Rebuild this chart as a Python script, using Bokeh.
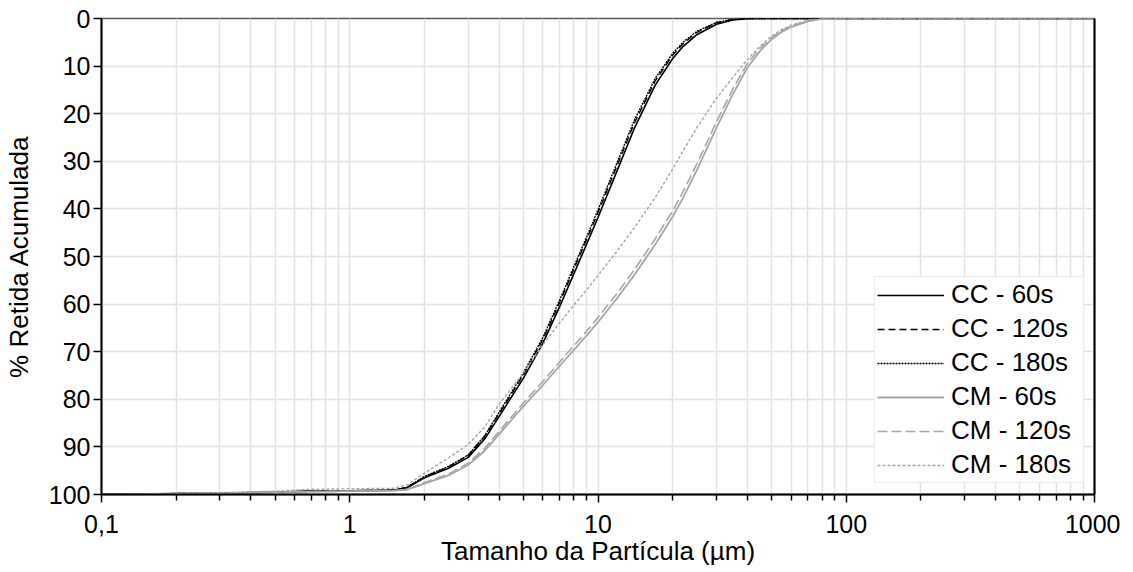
from bokeh.plotting import figure
from bokeh.models import (Range1d, FixedTicker, CustomJSTickFormatter, LinearAxis,
                          Legend, LegendItem)
from bokeh.embed import file_html
from bokeh.resources import INLINE

# particle sizes (µm)
size_um = [0.1, 0.2, 0.3, 0.5, 0.7, 1.0, 1.5, 1.7, 2.0, 2.5, 3.0, 3.5, 4.0, 5.0, 6.0, 7.0,
           8.0, 9.0, 10.0, 12.0, 14.0, 17.0, 20.0, 22.0, 25.0, 30.0, 35.0, 40.0, 45.0,
           50.0, 55.0, 60.0, 70.0, 80.0, 100.0, 200.0, 500.0, 1000.0]

# % retida acumulada
cc_60 = [100.0, 99.8, 99.7, 99.5, 99.3, 99.2, 99.1, 98.6, 96.5, 94.5, 92.2, 88.3, 83.6, 75.6,
         68.2, 60.6, 53.6, 47.4, 41.8, 31.7, 23.1, 14.0, 8.4, 5.9, 3.4, 1.2, 0.3, 0.05, 0.0,
         0.0, 0.0, 0.0, 0.0, 0.0, 0.0, 0.0, 0.0, 0.0]
cc_120 = [100.0, 99.8, 99.7, 99.5, 99.3, 99.2, 99.1, 98.5, 96.3, 94.2, 91.8, 87.8, 83.0, 74.9,
          67.4, 59.7, 52.6, 46.4, 40.8, 30.6, 22.0, 13.1, 7.7, 5.3, 2.9, 0.9, 0.2, 0.0, 0.0,
          0.0, 0.0, 0.0, 0.0, 0.0, 0.0, 0.0, 0.0, 0.0]
cc_180 = [100.0, 99.8, 99.7, 99.5, 99.3, 99.2, 99.1, 98.5, 96.2, 94.1, 91.7, 87.6, 82.7, 74.5,
          67.0, 59.2, 52.1, 45.9, 40.2, 30.0, 21.4, 12.6, 7.3, 5.0, 2.7, 0.8, 0.2, 0.0, 0.0,
          0.0, 0.0, 0.0, 0.0, 0.0, 0.0, 0.0, 0.0, 0.0]
cm_60 = [100.0, 99.8, 99.7, 99.5, 99.4, 99.3, 99.2, 99.0, 97.7, 96.0, 93.8, 90.8, 87.3, 81.5,
         77.0, 73.0, 69.6, 66.6, 63.8, 58.6, 53.9, 47.5, 41.6, 37.7, 31.9, 23.0, 15.8, 10.3,
         6.8, 4.4, 2.8, 1.8, 0.6, 0.1, 0.0, 0.0, 0.0, 0.0]
cm_120 = [100.0, 99.8, 99.7, 99.5, 99.4, 99.3, 99.2, 98.9, 97.5, 95.7, 93.4, 90.3, 86.7, 80.8,
          76.2, 72.2, 68.7, 65.7, 62.8, 57.6, 52.8, 46.3, 40.4, 36.4, 30.6, 21.7, 14.7, 9.4,
          6.2, 4.0, 2.5, 1.6, 0.5, 0.1, 0.0, 0.0, 0.0, 0.0]
cm_180 = [100.0, 99.8, 99.6, 99.3, 98.9, 98.8, 98.7, 98.0, 95.5, 92.3, 89.5, 85.8, 81.0, 74.5,
          68.5, 64.0, 60.2, 57.0, 54.0, 48.7, 44.0, 37.6, 31.6, 27.8, 23.0, 16.8, 12.3, 8.6,
          5.8, 3.7, 2.3, 1.4, 0.4, 0.0, 0.0, 0.0, 0.0, 0.0]

series_names = ["CC - 60s", "CC - 120s", "CC - 180s", "CM - 60s", "CM - 120s", "CM - 180s"]
series_values = [cc_60, cc_120, cc_180, cm_60, cm_120, cm_180]

x_major = [0.1, 1, 10, 100, 1000]
x_minor = [m * 10.0 ** e for e in range(-1, 3) for m in range(2, 10)]
y_ticks = [0, 10, 20, 30, 40, 50, 60, 70, 80, 90, 100]

FONT = "Liberation Sans"
GRID = "#e3e3e3"
GRAY = "#a6a6a6"

p = figure(x_axis_type="log", x_range=Range1d(0.1, 1000), y_range=Range1d(100, 0),
           width=1120, height=572, output_backend="svg", toolbar_location=None,
           min_border_left=101, min_border_top=18, min_border_right=26, min_border_bottom=78,
           background_fill_color="white", border_fill_color="white")
p.outline_line_color = "#595959"
p.outline_line_width = 1.5

xt = FixedTicker(ticks=x_major, minor_ticks=x_minor)
p.xaxis.ticker = xt
p.xgrid.ticker = xt
p.xaxis.formatter = CustomJSTickFormatter(
    code="return tick < 0.5 ? '0,1' : String(Math.round(tick));")
p.yaxis.ticker = FixedTicker(ticks=y_ticks)
p.ygrid.ticker = FixedTicker(ticks=y_ticks)

p.xgrid.grid_line_color = GRID
p.xgrid.minor_grid_line_color = GRID
p.ygrid.grid_line_color = GRID
p.xgrid.grid_line_width = 1.5
p.xgrid.minor_grid_line_width = 1.5
p.ygrid.grid_line_width = 1.5

for ax in (p.xaxis, p.yaxis):
    ax.axis_line_color = "black"
    ax.axis_line_width = 2
    ax.major_tick_line_color = "black"
    ax.major_tick_line_width = 1.5
    ax.major_tick_in = 0
    ax.major_tick_out = 8
    ax.major_label_text_font = FONT
    ax.major_label_text_font_size = "25px"
    ax.major_label_text_color = "black"
    ax.axis_label_text_font = FONT
    ax.axis_label_text_font_size = "26px"
    ax.axis_label_text_font_style = "normal"
    ax.axis_label_text_color = "black"

p.xaxis.minor_tick_line_color = "black"
p.xaxis.minor_tick_line_width = 1.5
p.xaxis.minor_tick_in = 0
p.xaxis.minor_tick_out = 6
p.yaxis.minor_tick_line_color = None
p.xaxis.major_label_standoff = 12
p.yaxis.major_label_standoff = 3
p.xaxis.axis_label = "Tamanho da Partícula (µm)"
p.yaxis.axis_label = "% Retida Acumulada"
p.xaxis.axis_label_standoff = 0
p.yaxis.axis_label_standoff = 12

right_axis = LinearAxis(ticker=FixedTicker(ticks=[]), axis_line_color="black",
                        axis_line_width=2, major_label_text_font_size="0px")
p.add_layout(right_axis, "right")

styles = [
    dict(color="black", dash="solid", width=1.6),
    dict(color="black", dash="7 4", width=1.4),
    dict(color="black", dash="2 1", width=1.4),
    dict(color=GRAY, dash="solid", width=1.8),
    dict(color=GRAY, dash="10 4", width=1.6),
    dict(color=GRAY, dash="3 2", width=1.4),
]

items = []
for name, vals, st in zip(series_names, series_values, styles):
    r = p.line(size_um, vals, line_color=st["color"], line_dash=st["dash"],
               line_width=st["width"])
    items.append(LegendItem(label=name, renderers=[r]))

legend = Legend(items=items, location=(773, 11), margin=0, padding=2,
                spacing=3, label_height=26, glyph_height=26, glyph_width=67,
                label_standoff=7, label_width=130, label_text_font=FONT,
                label_text_font_size="26px", label_text_color="black",
                border_line_color="#d9d9d9", border_line_width=1.5,
                background_fill_color="white", background_fill_alpha=1.0)
p.add_layout(legend)

open("out.html", "w").write(file_html(p, INLINE))
